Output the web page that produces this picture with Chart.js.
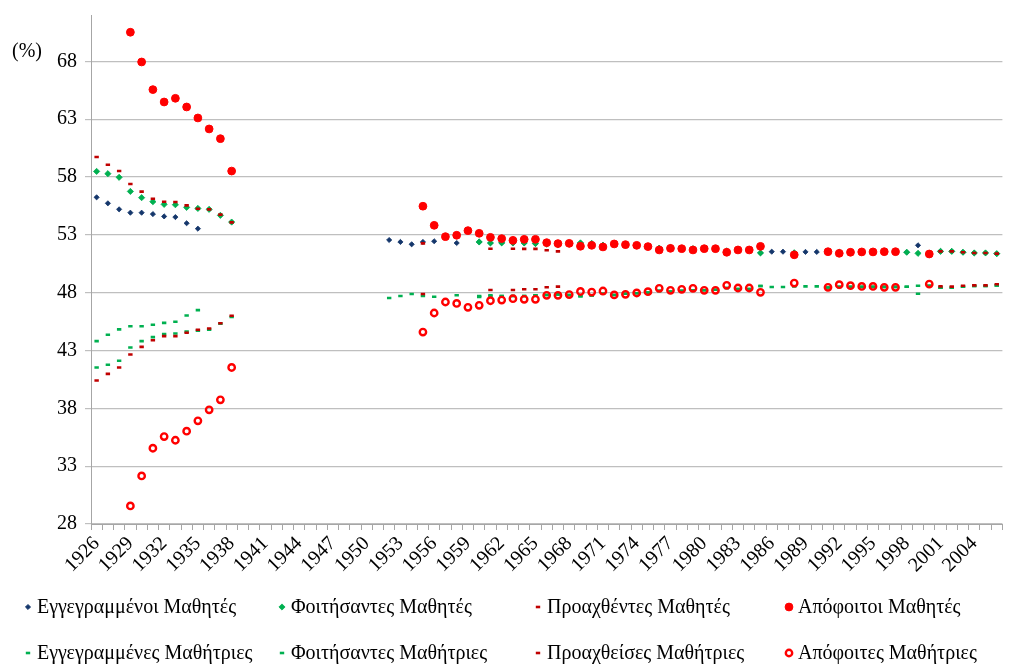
<!DOCTYPE html>
<html>
<head>
<meta charset="utf-8">
<script src="https://cdn.jsdelivr.net/npm/chart.js@4.4.1/dist/chart.umd.min.js"></script>
<style>
  html, body { margin: 0; padding: 0; background: #fff; }
  #wrap { width: 1009px; height: 664px; position: relative; }
</style>
</head>
<body>
<div id="wrap"><canvas id="chart"></canvas></div>
<script>
// categories: school years 1926 .. 2006
const years = [];
for (let y = 1926; y <= 2006; y++) years.push(String(y));

const yTicks = [28, 33, 38, 43, 48, 53, 58, 63, 68];

// rows: 1926-35, 1936-45, 1946-55, 1956-65, 1966-75, 1976-85, 1986-95, 1996-2005, 2006
const maleEnrolled = [
  56.24, 55.72, 55.20, 54.91, 54.91, 54.79, 54.59, 54.53, 54.00, 53.53,
  null, null, null, null, null, null, null, null, null, null,
  null, null, null, null, null, null, 52.55, 52.38, 52.18, 52.38,
  52.44, null, 52.29, null, 52.38, 52.29, 52.30, 52.29, 52.29, 52.24,
  52.20, 52.15, 52.20, 52.30, 52.25, 52.10, 52.20, 52.10, 52.05, 52.00,
  51.85, 51.90, 51.85, 51.80, 51.80, 51.75, 51.60, 51.70, 51.70, 51.43,
  51.54, 51.54, 51.45, 51.52, 51.52, 51.55, 51.50, 51.50, 51.50, 51.50,
  51.50, 51.50, 51.49, 52.09, 51.40, 51.57, 51.57, 51.49, 51.43, 51.43,
  51.37
];
const maleAttending = [
  58.48, 58.28, 57.97, 56.75, 56.21, 55.86, 55.63, 55.60, 55.37, 55.28,
  55.20, 54.68, 54.10, null, null, null, null, null, null, null,
  null, null, null, null, null, null, null, null, null, null,
  null, null, null, null, 52.38, 52.29, 52.30, 52.29, 52.29, 52.24,
  52.20, 52.15, 52.20, 52.30, 52.25, 52.10, 52.20, 52.10, 52.05, 52.00,
  51.85, 51.90, 51.85, 51.80, 51.80, 51.75, 51.60, 51.70, 51.70, 51.43,
  null, null, 51.45, null, null, 51.55, 51.50, 51.50, 51.50, 51.50,
  51.50, 51.50, 51.49, 51.40, 51.40, 51.57, 51.57, 51.49, 51.43, 51.43,
  51.37
];
const malePromoted = [
  59.72, 59.06, 58.51, 57.39, 56.73, 56.12, 55.86, 55.83, 55.54, 55.25,
  55.20, 54.74, 54.07, null, null, null, null, null, null, null,
  null, null, null, null, null, null, null, null, null, 52.26,
  null, null, null, null, null, 51.80, null, 51.80, 51.78, 51.78,
  51.66, 51.57, null, null, null, null, null, null, null, null,
  null, null, null, null, null, null, null, null, null, null,
  null, null, null, null, null, null, null, null, null, null,
  null, null, null, null, null, 51.57, 51.57, 51.49, 51.43, 51.43,
  51.37
];
const maleGraduates = [
  null, null, null, 70.51, 67.94, 65.55, 64.48, 64.80, 64.05, 63.10,
  62.15, 61.31, 58.51, null, null, null, null, null, null, null,
  null, null, null, null, null, null, null, null, null, 55.47,
  53.82, 52.84, 52.96, 53.36, 53.13, 52.78, 52.67, 52.52, 52.61, 52.61,
  52.32, 52.24, 52.26, 52.01, 52.09, 51.95, 52.21, 52.15, 52.09, 51.98,
  51.69, 51.83, 51.80, 51.69, 51.80, 51.80, 51.49, 51.69, 51.69, 52.00,
  null, null, 51.27, null, null, 51.54, 51.40, 51.49, 51.52, 51.52,
  51.54, 51.54, null, null, 51.34, null, null, null, null, null,
  null
];
const femaleEnrolled = [
  43.81, 44.36, 44.82, 45.10, 45.10, 45.22, 45.39, 45.48, 46.03, 46.49,
  null, null, null, null, null, null, null, null, null, null,
  null, null, null, null, null, null, 47.54, 47.71, 47.88, 47.71,
  47.65, null, 47.77, null, 47.71, 47.77, 47.70, 47.71, 47.71, 47.76,
  47.80, 47.85, 47.80, 47.70, 47.75, 47.90, 47.80, 47.90, 47.95, 48.00,
  48.15, 48.10, 48.15, 48.20, 48.20, 48.25, 48.40, 48.30, 48.30, 48.57,
  48.49, 48.49, 48.55, 48.54, 48.54, 48.45, 48.50, 48.50, 48.50, 48.50,
  48.50, 48.50, 48.51, 47.91, 48.60, 48.43, 48.43, 48.51, 48.57, 48.57,
  48.63
];
const femaleAttending = [
  41.53, 41.76, 42.11, 43.26, 43.81, 44.15, 44.41, 44.47, 44.63, 44.72,
  44.80, 45.32, 45.90, null, null, null, null, null, null, null,
  null, null, null, null, null, null, null, null, null, null,
  null, null, null, null, 47.62, 47.71, 47.70, 47.71, 47.71, 47.76,
  47.80, 47.85, 47.80, 47.70, 47.75, 47.90, 47.80, 47.90, 47.95, 48.00,
  48.15, 48.10, 48.15, 48.20, 48.20, 48.25, 48.40, 48.30, 48.30, 48.57,
  null, null, 48.55, null, null, 48.45, 48.50, 48.50, 48.50, 48.50,
  48.50, 48.50, 48.51, 48.60, 48.60, 48.43, 48.43, 48.51, 48.57, 48.57,
  48.63
];
const femalePromoted = [
  40.40, 40.98, 41.53, 42.65, 43.31, 43.89, 44.24, 44.24, 44.53, 44.79,
  44.90, 45.36, 46.00, null, null, null, null, null, null, null,
  null, null, null, null, null, null, null, null, null, 47.88,
  null, null, null, null, null, 48.23, null, 48.23, 48.29, 48.29,
  48.46, 48.52, null, null, null, null, null, null, null, null,
  null, null, null, null, null, null, null, null, null, null,
  null, null, null, null, null, null, null, null, null, null,
  null, null, null, null, null, 48.54, 48.52, 48.60, 48.63, 48.63,
  48.72
];
const femaleGraduates = [
  null, null, null, 29.56, 32.16, 34.55, 35.56, 35.24, 36.02, 36.92,
  37.87, 38.73, 41.53, null, null, null, null, null, null, null,
  null, null, null, null, null, null, null, null, null, 44.59,
  46.24, 47.19, 47.07, 46.73, 46.90, 47.30, 47.36, 47.48, 47.42, 47.42,
  47.77, 47.77, 47.83, 48.10, 48.05, 48.14, 47.80, 47.85, 47.97, 48.08,
  48.37, 48.20, 48.29, 48.37, 48.20, 48.20, 48.63, 48.40, 48.40, 48.03,
  null, null, 48.83, null, null, 48.46, 48.69, 48.60, 48.54, 48.54,
  48.46, 48.46, null, null, 48.74, null, null, null, null, null,
  null
];

const NAVY = '#14366b', GREEN = '#00b050', DARKRED = '#c00000', RED = '#ff0000';
const FONT = 'Liberation Serif, Times New Roman, serif';

function series(label, data, style) {
  return Object.assign({
    label: label,
    data: data,
    showLine: false,
    pointHoverRadius: 4
  }, style);
}

const datasets = [
  series('Εγγεγραμμένοι Μαθητές', maleEnrolled,
    { pointStyle: 'rectRot', pointRadius: 2.6, pointBorderWidth: 0.8, backgroundColor: NAVY, borderColor: NAVY }),
  series('Φοιτήσαντες Μαθητές', maleAttending,
    { pointStyle: 'rectRot', pointRadius: 3.1, pointBorderWidth: 0.8, backgroundColor: GREEN, borderColor: GREEN }),
  series('Προαχθέντες Μαθητές', malePromoted,
    { pointStyle: 'line', pointRadius: 2.2, pointBorderWidth: 2.6, backgroundColor: DARKRED, borderColor: DARKRED }),
  series('Απόφοιτοι Μαθητές', maleGraduates,
    { pointStyle: 'circle', pointRadius: 3.9, pointBorderWidth: 1, backgroundColor: RED, borderColor: RED }),
  series('Εγγεγραμμένες Μαθήτριες', femaleEnrolled,
    { pointStyle: 'line', pointRadius: 2.2, pointBorderWidth: 2.6, backgroundColor: GREEN, borderColor: GREEN }),
  series('Φοιτήσαντες Μαθήτριες', femaleAttending,
    { pointStyle: 'line', pointRadius: 2.2, pointBorderWidth: 2.6, backgroundColor: GREEN, borderColor: GREEN }),
  series('Προαχθείσες Μαθήτριες', femalePromoted,
    { pointStyle: 'line', pointRadius: 2.2, pointBorderWidth: 2.6, backgroundColor: DARKRED, borderColor: DARKRED }),
  series('Απόφοιτες Μαθήτριες', femaleGraduates,
    { pointStyle: 'circle', pointRadius: 3.2, pointBorderWidth: 2.4, backgroundColor: 'rgba(0,0,0,0)', borderColor: RED })
];
// later series drawn on top, like the original
datasets.forEach((d, i) => { d.order = datasets.length - i; });

// legend in a 4 x 2 grid under the axis
const gridLegend = {
  id: 'gridLegend',
  afterDraw(chart) {
    const ctx = chart.ctx;
    const colX = [28, 282, 538, 789];
    const rowY = [607, 653];
    ctx.save();
    chart.data.datasets.forEach((d, i) => {
      const x = colX[i % 4], y = rowY[Math.floor(i / 4)];
      ctx.fillStyle = d.backgroundColor;
      ctx.strokeStyle = d.borderColor;
      ctx.lineWidth = d.pointBorderWidth;
      Chart.helpers.drawPoint(ctx, {
        pointStyle: d.pointStyle, radius: d.pointRadius,
        borderWidth: d.pointBorderWidth, rotation: 0
      }, x, y);
      ctx.fillStyle = '#000';
      ctx.font = '20px ' + FONT;
      ctx.textAlign = 'left';
      ctx.textBaseline = 'middle';
      ctx.fillText(d.label, x + 9, y + 1);
    });
    // unit label
    ctx.font = '20px ' + FONT;
    ctx.fillText('(%)', 12, 52);
    ctx.restore();
  }
};

new Chart(document.getElementById('chart'), {
  type: 'line',
  data: { labels: years, datasets: datasets },
  options: {
    responsive: true,
    maintainAspectRatio: false,
    animation: false,
    layout: { padding: { top: 15, right: 0, left: 0, bottom: 0 } },
    plugins: {
      legend: { display: false },
      tooltip: { enabled: true }
    },
    scales: {
      x: {
        offset: true,
        grid: { offset: true, drawOnChartArea: false, drawTicks: true, tickLength: 6, color: '#a6a6a6' },
        border: { color: '#a6a6a6' },
        ticks: {
          autoSkip: false, minRotation: 45, maxRotation: 45, padding: 2,
          color: '#000', font: { family: FONT, size: 20 },
          callback: (v, i) => (i % 3 === 0 ? years[i] : '')
        },
        afterFit: s => { s.height = 140; s.paddingLeft = 0; s.paddingRight = 0; }
      },
      y: {
        min: 28, max: 72,
        afterBuildTicks: s => { s.ticks = yTicks.map(v => ({ value: v })); },
        afterFit: s => { s.width = 91; s.paddingTop = 0; s.paddingBottom = 0; },
        grid: { color: '#bfbfbf', lineWidth: 1.2, tickLength: 6 },
        border: { color: '#a6a6a6' },
        ticks: { color: '#000', padding: 8, font: { family: FONT, size: 20 } }
      }
    }
  },
  plugins: [gridLegend]
});
</script>
</body>
</html>
